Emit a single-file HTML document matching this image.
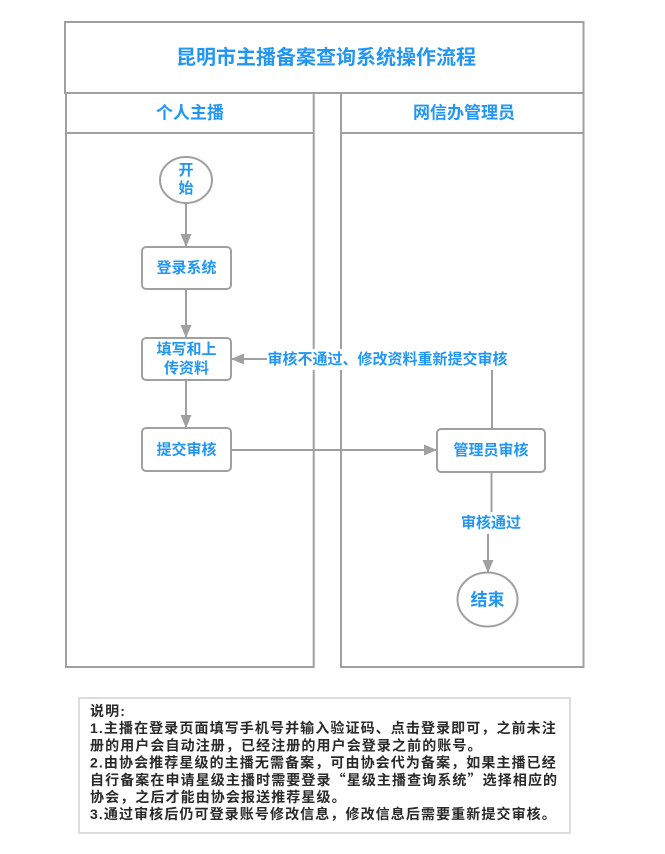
<!DOCTYPE html>
<html>
<head>
<meta charset="utf-8">
<style>
  html,body{margin:0;padding:0;background:#fff;}
  body{width:665px;height:854px;overflow:hidden;}
  svg{display:block;}
  .t{font-family:"Liberation Sans","Noto Sans CJK SC",sans-serif;font-weight:bold;fill:#2196f3;}
  .n{font-family:"Liberation Sans","Noto Sans CJK SC",sans-serif;font-weight:bold;fill:#2a2a2a;font-size:14px;letter-spacing:1.1px;}
  .q{font-family:"Noto Sans CJK SC",sans-serif;}
</style>
</head>
<body>
<svg width="665" height="854" viewBox="0 0 665 854" xmlns="http://www.w3.org/2000/svg">
  <defs>
    <marker id="ah" markerWidth="13" markerHeight="12" refX="0" refY="0" orient="auto" markerUnits="userSpaceOnUse" viewBox="-13 -6 13 12">
      <path d="M-13,-5.5 L0,0 L-13,5.5 Z" fill="#a0a0a0"/>
    </marker>
  </defs>

  <!-- Title box -->
  <rect x="65" y="22" width="518.5" height="71" fill="#fff" stroke="#a0a0a0" stroke-width="2"/>
  <text class="t" x="326" y="58" font-size="20" text-anchor="middle" dominant-baseline="central">昆明市主播备案查询系统操作流程</text>

  <!-- Left lane -->
  <rect x="66" y="93" width="247.7" height="574" fill="none" stroke="#a0a0a0" stroke-width="2"/>
  <line x1="66" y1="133" x2="313.7" y2="133" stroke="#a0a0a0" stroke-width="2"/>
  <text class="t" x="190" y="113" font-size="17" text-anchor="middle" dominant-baseline="central">个人主播</text>

  <!-- Right lane -->
  <rect x="341" y="93" width="242.5" height="574" fill="none" stroke="#a0a0a0" stroke-width="2"/>
  <line x1="341" y1="133" x2="583.5" y2="133" stroke="#a0a0a0" stroke-width="2"/>
  <text class="t" x="464" y="113" font-size="17" text-anchor="middle" dominant-baseline="central">网信办管理员</text>

  <!-- Connectors -->
  <g stroke="#a0a0a0" stroke-width="2" fill="none">
    <line x1="186" y1="203" x2="186" y2="247" marker-end="url(#ah)"/>
    <line x1="186" y1="289" x2="186" y2="338" marker-end="url(#ah)"/>
    <line x1="186" y1="380" x2="186" y2="428" marker-end="url(#ah)"/>
    <line x1="231" y1="450" x2="437" y2="450" marker-end="url(#ah)"/>
    <polyline points="492,429 492,359 231,359" marker-end="url(#ah)"/>
    <line x1="491.5" y1="472" x2="491.5" y2="512"/>
    <line x1="488" y1="534" x2="488" y2="573" marker-end="url(#ah)"/>
  </g>

  <!-- Feedback label -->
  <rect x="267" y="349" width="241" height="21" fill="#fff"/>
  <text class="t" x="387.5" y="359.5" font-size="15" text-anchor="middle" dominant-baseline="central">审核不通过、修改资料重新提交审核</text>

  <!-- Pass label -->
  <rect x="457" y="512" width="67" height="22" fill="#fff"/>
  <text class="t" x="491" y="523" font-size="15" text-anchor="middle" dominant-baseline="central">审核通过</text>

  <!-- Start -->
  <ellipse cx="186" cy="180" rx="26" ry="23" fill="#fff" stroke="#a0a0a0" stroke-width="2"/>
  <text class="t" x="186" y="170.5" font-size="15" text-anchor="middle" dominant-baseline="central">开</text>
  <text class="t" x="186" y="188.5" font-size="15" text-anchor="middle" dominant-baseline="central">始</text>

  <!-- Boxes -->
  <rect x="142" y="247" width="89" height="42" rx="4" fill="#fff" stroke="#a0a0a0" stroke-width="2"/>
  <text class="t" x="186.5" y="268" font-size="15" text-anchor="middle" dominant-baseline="central">登录系统</text>

  <rect x="142" y="338" width="89" height="42" rx="4" fill="#fff" stroke="#a0a0a0" stroke-width="2"/>
  <text class="t" x="186.5" y="349.5" font-size="15" text-anchor="middle" dominant-baseline="central">填写和上</text>
  <text class="t" x="186.5" y="368.5" font-size="15" text-anchor="middle" dominant-baseline="central">传资料</text>

  <rect x="142" y="428" width="89" height="43" rx="4" fill="#fff" stroke="#a0a0a0" stroke-width="2"/>
  <text class="t" x="186.5" y="450" font-size="15" text-anchor="middle" dominant-baseline="central">提交审核</text>

  <rect x="437" y="429" width="108" height="43" rx="4" fill="#fff" stroke="#a0a0a0" stroke-width="2"/>
  <text class="t" x="491" y="450.5" font-size="15" text-anchor="middle" dominant-baseline="central">管理员审核</text>

  <!-- End -->
  <ellipse cx="487.5" cy="599.5" rx="30" ry="27" fill="#fff" stroke="#a0a0a0" stroke-width="2"/>
  <text class="t" x="487.5" y="600" font-size="17" text-anchor="middle" dominant-baseline="central">结束</text>

  <!-- Notes -->
  <rect x="79" y="698" width="491" height="135" fill="#fff" stroke="#dcdcdc" stroke-width="2"/>
  <text class="n" x="90" y="716">说明:</text>
  <text class="n" x="90" y="733.2">1.主播在登录页面填写手机号并输入验证码、点击登录即可，之前未注</text>
  <text class="n" x="90" y="750.4">册的用户会自动注册，已经注册的用户会登录之前的账号。</text>
  <text class="n" x="90" y="767.6">2.由协会推荐星级的主播无需备案，可由协会代为备案，如果主播已经</text>
  <text class="n" x="90" y="784.8">自行备案在申请星级主播时需要登录<tspan class="q">“</tspan>星级主播查询系统<tspan class="q">”</tspan>选择相应的</text>
  <text class="n" x="90" y="802">协会，之后才能由协会报送推荐星级。</text>
  <text class="n" x="90" y="819.2">3.通过审核后仍可登录账号修改信息，修改信息后需要重新提交审核。</text>
</svg>
</body>
</html>
